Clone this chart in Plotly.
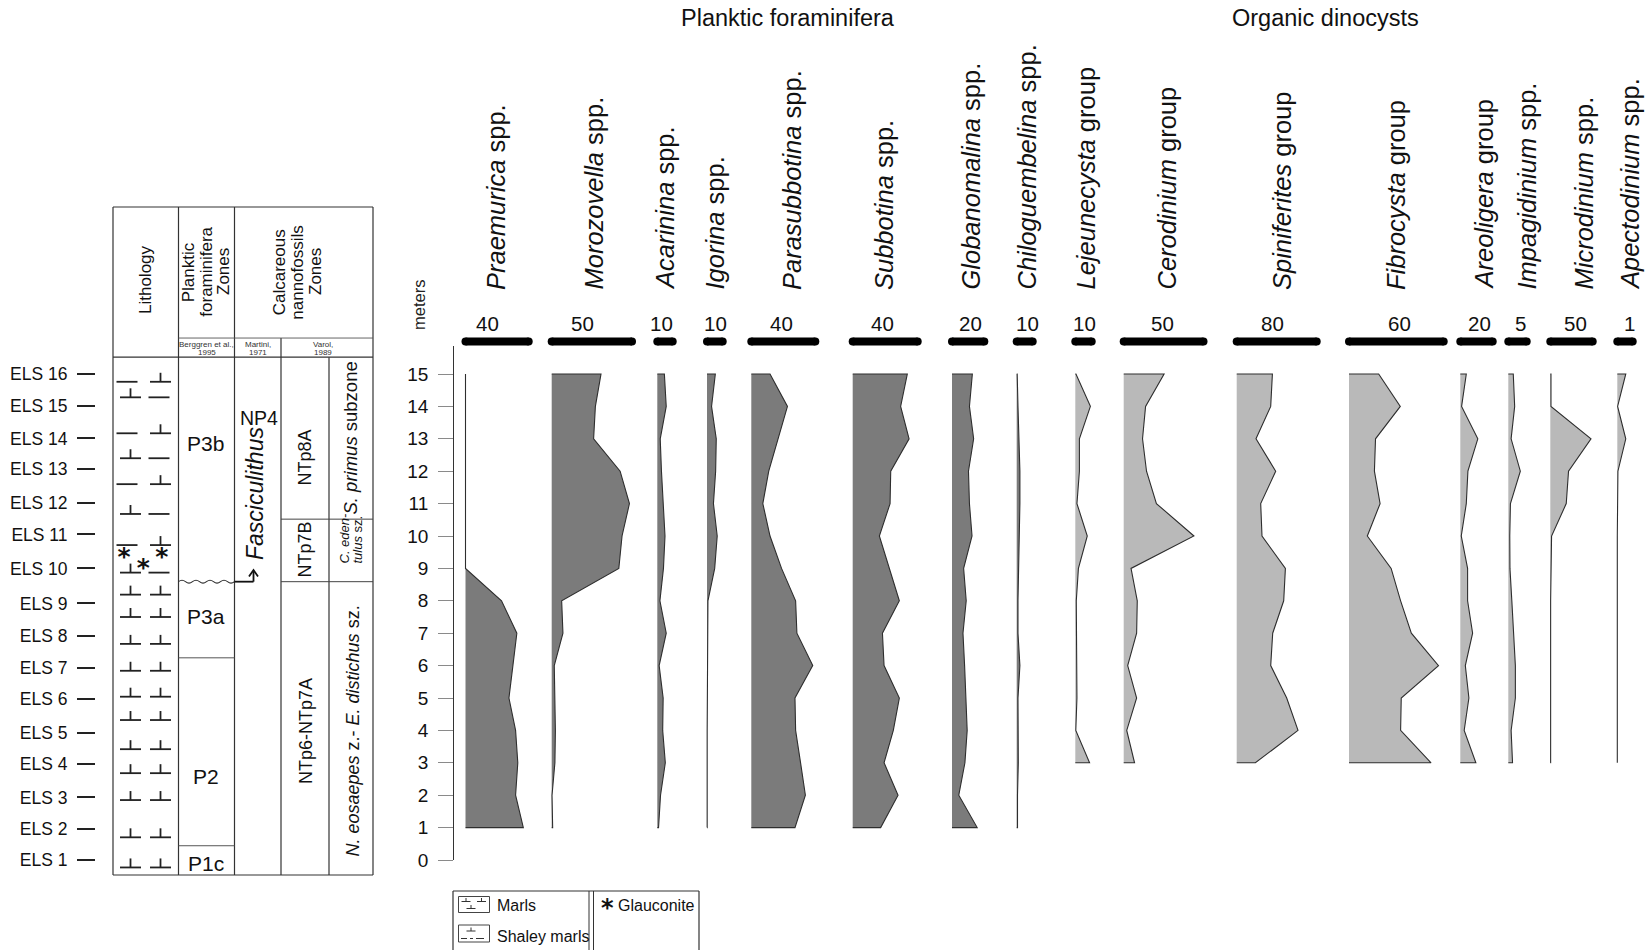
import plotly.graph_objects as go

W, H = 1649, 950

# ---------------- data ----------------
depth_foram = [15, 14, 13, 12, 11, 10, 9, 8, 7, 6, 5, 4, 3, 2, 1]
depth_dino = [15, 14, 13, 12, 11, 10, 9, 8, 7, 6, 5, 4, 3]

taxa_genus = ["Praemurica", "Morozovella", "Acarinina", "Igorina", "Parasubbotina",
              "Subbotina", "Globanomalina", "Chiloguembelina", "Lejeunecysta",
              "Cerodinium", "Spiniferites", "Fibrocysta", "Areoligera",
              "Impagidinium", "Microdinium", "Apectodinium"]
taxa_suffix = ["spp."] * 8 + ["group"] * 5 + ["spp."] * 3
scale_values = [40, 50, 10, 10, 40, 40, 20, 10, 10, 50, 80, 60, 20, 5, 50, 1]
taxa_group = ["foram"] * 8 + ["dino"] * 8

# planktic foraminifera (15 m -> 1 m)
praemurica = [0, 0, 0, 0, 0, 0, 0, 22.8, 32.5, 30.0, 27.5, 31.7, 33.1, 31.7, 36.6]
morozovella = [30.7, 27.2, 26.1, 42.6, 48.4, 43.8, 41.8, 6.2, 7.0, 1.6, 2.1, 2.3, 2.0, 0.2, 0.6]
acarinina = [4.6, 5.8, 1.9, 2.7, 3.8, 5.0, 4.0, 1.7, 5.8, 1.2, 3.8, 3.5, 5.2, 2.1, 0.8]
igorina = [5.3, 2.9, 5.9, 5.5, 4.1, 6.5, 4.9, 0.6, 0.4, 0.2, 0.1, 0.1, 0.1, 0.1, 0.1]
parasubbotina = [11.7, 22.6, 16.8, 10.9, 7.2, 11.7, 18.9, 27.7, 28.5, 38.4, 27.3, 27.7, 30.8, 33.8, 27.3]
subbotina = [33.6, 29.5, 34.7, 23.4, 23.0, 16.4, 22.6, 28.7, 18.3, 19.3, 28.7, 25.0, 19.3, 27.9, 17.2]
globanomalina = [12.6, 10.8, 13.4, 10.2, 10.8, 12.4, 7.2, 8.8, 6.8, 7.8, 8.8, 9.4, 8.0, 4.2, 15.6]
chiloguembelina = [0.3, 0.8, 1.5, 2.0, 2.0, 1.5, 1.0, 0.8, 0.8, 2.0, 0.8, 1.0, 1.0, 0.5, 0.5]
# organic dinocysts (15 m -> 3 m)
lejeunecysta = [0.4, 9.2, 2.5, 2.5, 1.0, 7.3, 1.9, 0.6, 0.8, 1.0, 1.0, 0.3, 8.7]
cerodinium = [25.3, 13.7, 11.8, 14.3, 20.5, 44.0, 4.6, 8.5, 8.1, 2.5, 8.1, 1.9, 6.8]
spiniferites = [35.7, 34.0, 19.3, 39.0, 24.0, 25.3, 48.7, 47.0, 36.0, 34.0, 50.0, 61.3, 18.7]
fibrocysta = [18.8, 32.5, 16.8, 16.1, 19.7, 11.6, 26.7, 32.7, 39.5, 56.7, 33.1, 32.7, 52.0]
areoligera = [3.7, 0.8, 10.8, 4.7, 3.7, 0.6, 4.5, 4.5, 7.6, 3.1, 5.3, 2.4, 9.6]
impagidinium = [1.35, 1.73, 0.77, 3.27, 0.58, 0.4, 0.45, 0.96, 1.54, 1.92, 1.92, 0.77, 1.15]
microdinium = [0.8, 0.8, 48.0, 21.5, 18.8, 1.5, 0.6, 0.4, 0.4, 0.4, 0.4, 0.4, 0.4]
apectodinium = [0.55, 0.02, 0.55, 0.04, 0, 0, 0, 0, 0, 0, 0, 0, 0]

abundances = [praemurica, morozovella, acarinina, igorina, parasubbotina, subbotina,
              globanomalina, chiloguembelina, lejeunecysta, cerodinium, spiniferites,
              fibrocysta, areoligera, impagidinium, microdinium, apectodinium]

meter_ticks = list(range(0, 16))
els_labels = ["ELS %d" % i for i in range(1, 17)]
els_depth = [0, 0.95, 1.93, 2.96, 3.91, 4.96, 5.92, 6.91, 7.92, 9.0, 10.05, 11.01, 12.06, 13.01, 14.02, 14.99]

# lithology column: symbol rows (m) and left / right symbols
litho_depth = [14.76, 14.28, 13.17, 12.40, 11.60, 10.68, 9.72, 8.87, 8.19, 7.50, 6.67,
               5.84, 5.04, 4.32, 3.42, 2.68, 1.85, 0.70, -0.23]
litho_left = ["dash", "perp"] * 4 + ["perp"] * 11
litho_right = ["perp", "dash"] * 4 + ["perp"] * 11
glauconite_depth = [9.50, 9.50, 9.16]
glauconite_pos = [11.0, 48.7, 30.3]

pf_zone_bounds = [0.44, 6.24]            # P1c/P2, P2/P3a
unconformity_depth = 8.59                # P3a/P3b (wavy)
varol_bounds = [8.59, 10.52]             # NTp7A/NTp7B, NTp7B/NTp8A
table_bottom, header_bottom, subheader_top, table_top = -0.463, 15.52, 16.11, 20.154

# ---------------- layout helpers ----------------
FONT = "Liberation Sans, Arial, Helvetica, sans-serif"
DARK, LIGHT, EDGE = "#7b7b7b", "#b9b9b9", "#2e2e2e"
Y0_PX, PPM = 860.0, 32.4   # pixel row of 0 m, pixels per metre


def fx(p):
    return p / W


def fy(p):
    return 1 - p / H


panel_base_px = [465.5, 551.7, 657.3, 707.0, 751.3, 852.7, 952.0, 1016.7, 1075.3, 1123.7,
                 1236.7, 1349.0, 1460.3, 1508.3, 1550.3, 1617.3]
panel_len_px = [63.2, 80.3, 15.4, 15.7, 64.0, 65.0, 32.3, 16.0, 16.4, 79.8, 80.0, 94.7,
                32.4, 18.4, 42.4, 15.4]
label_x_px = [496, 594, 665, 715, 792, 884, 971, 1027, 1086, 1167, 1282, 1396, 1484, 1527, 1584, 1630]
scale_x_px = [487.7, 582.5, 661.5, 715.5, 781.5, 882, 970, 1027.5, 1084, 1162.5, 1272.5, 1399,
              1479, 1520, 1575, 1629]

fig = go.Figure()
layout = dict(
    width=W, height=H, margin=dict(l=0, r=0, t=0, b=0), autosize=False,
    paper_bgcolor="white", plot_bgcolor="rgba(0,0,0,0)", showlegend=False,
    font=dict(family=FONT, color="#111"),
)

ytop = 15.85
layout["yaxis"] = dict(
    domain=[fy(Y0_PX), fy(Y0_PX - ytop * PPM)], range=[0, ytop], anchor="free",
    position=fx(453.3), showline=True, linecolor="#333", linewidth=1.3,
    ticks="outside", ticklen=15, tickwidth=1.3, tickcolor="#8a8a8a",
    tickvals=meter_ticks, ticktext=[str(v) for v in meter_ticks],
    tickfont=dict(size=19, family=FONT, color="#111"), ticklabelstandoff=6,
    showgrid=False, zeroline=False, fixedrange=True, automargin=False,
)
layout["yaxis3"] = dict(domain=[fy(350), fy(333)], range=[0, 1], anchor="x", visible=False,
                        fixedrange=True)

annotations = []
shapes = []


def pann(text, xp, yp, size, angle=0, xanchor="center", yanchor="middle", family=FONT, color="#111"):
    annotations.append(dict(xref="paper", yref="paper", x=fx(xp), y=fy(yp), text=text,
                            showarrow=False, textangle=angle, xanchor=xanchor, yanchor=yanchor,
                            font=dict(size=size, family=family, color=color)))


for i, vals in enumerate(abundances):
    xa = "x" if i == 0 else "x%d" % (i + 1)
    key = "xaxis" if i == 0 else "xaxis%d" % (i + 1)
    V = scale_values[i]
    base, length = panel_base_px[i], panel_len_px[i]
    ppu = length / V
    layout[key] = dict(domain=[fx(base - 2), fx(base + length + 2)],
                       range=[-2 / ppu, V + 2 / ppu], anchor="y", visible=False,
                       fixedrange=True)
    depths = depth_foram if taxa_group[i] == "foram" else depth_dino
    fig.add_trace(go.Scatter(
        x=[0] + vals + [0], y=[depths[0]] + depths + [depths[-1]],
        mode="lines", fill="toself",
        fillcolor=DARK if taxa_group[i] == "foram" else LIGHT,
        line=dict(color=EDGE, width=1.1), xaxis=xa, yaxis="y", hoverinfo="skip"))
    fig.add_trace(go.Scatter(
        x=[0, V], y=[0.5, 0.5], mode="lines+markers",
        line=dict(color="black", width=8), marker=dict(size=8, color="black"),
        cliponaxis=False, xaxis=xa, yaxis="y3", hoverinfo="skip"))
    pann("<i>%s</i> %s" % (taxa_genus[i], taxa_suffix[i]), label_x_px[i], 292, 25.5,
         angle=-90, yanchor="bottom")
    pann(str(V), scale_x_px[i], 323.5, 20.5)

pann("Planktic foraminifera", 788, 18.5, 23.5)
pann("Organic dinocysts", 1325, 18.5, 23.5)
pann("meters", 419, 305, 16.5, angle=-90, color="#222")

# ---------------- stratigraphic table ----------------
layout["xaxis17"] = dict(domain=[fx(111), fx(375)], range=[-2, 262], anchor="y2",
                         visible=False, fixedrange=True)
layout["yaxis2"] = dict(
    domain=[fy(877), fy(205)], range=[(Y0_PX - 877) / PPM, (Y0_PX - 205) / PPM],
    anchor="free", position=fx(95), side="left", showline=False,
    ticks="outside", ticklen=18, tickwidth=1.6, tickcolor="#222",
    tickvals=els_depth, ticktext=els_labels, ticklabelstandoff=6,
    tickfont=dict(size=17.5, family=FONT, color="#111"),
    showgrid=False, zeroline=False, fixedrange=True, automargin=False)

col_lith, col_pf, col_martini, col_varol, col_right = 65.5, 121.5, 168.0, 216.0, 260.0


def tline(x0, y0, x1, y1, w=1.2, c="#333"):
    shapes.append(dict(type="line", xref="x17", yref="y2", x0=x0, y0=y0, x1=x1, y1=y1,
                       line=dict(color=c, width=w)))


tline(0, table_bottom, col_right, table_bottom)
tline(0, table_top, col_right, table_top)
tline(0, table_bottom, 0, table_top)
tline(col_right, table_bottom, col_right, table_top)
tline(col_lith, table_bottom, col_lith, table_top)
tline(col_pf, table_bottom, col_pf, table_top)
tline(col_martini, table_bottom, col_martini, subheader_top)
tline(col_varol, table_bottom, col_varol, header_bottom)
tline(col_lith, subheader_top, col_right, subheader_top, 0.9, "#555")
tline(0, header_bottom, col_right, header_bottom)
for b in pf_zone_bounds:
    tline(col_lith, b, col_pf, b, 1.0, "#555")
for b in varol_bounds:
    tline(col_martini, b, col_right, b, 1.0, "#444")

# unconformity (wavy line) + arrow of Fasciculithus first occurrence
amp = 0.09
path = "M %.2f,%.3f Q %.2f,%.3f %.2f,%.3f" % (col_lith, unconformity_depth, col_lith + 3.5,
                                              unconformity_depth + amp, col_lith + 7, unconformity_depth)
xx = col_lith + 7
while xx < col_pf - 0.1:
    xx += 7
    path += " T %.2f,%.3f" % (xx, unconformity_depth)
shapes.append(dict(type="path", xref="x17", yref="y2", path=path,
                   line=dict(color="#333", width=1.1)))
ax_x = 140.5
tline(col_pf, unconformity_depth, ax_x, unconformity_depth, 1.8, "#111")
tline(ax_x, unconformity_depth, ax_x, unconformity_depth + 0.32, 1.8, "#111")
shapes.append(dict(type="path", xref="x17", yref="y2",
                   path="M %.2f,%.3f L %.2f,%.3f L %.2f,%.3f" % (
                       ax_x - 4.5, unconformity_depth + 0.16, ax_x, unconformity_depth + 0.36,
                       ax_x + 4.5, unconformity_depth + 0.16),
                   line=dict(color="#111", width=1.8)))

# lithology symbols
sx, sy = [], []
stem = 9 / PPM
for d, l, r in zip(litho_depth, litho_left, litho_right):
    for kind, cd, cp in ((l, 14, 17.5), (r, 46, 47.5)):
        c = cd if kind == "dash" else cp
        sx += [c - 10.5, c + 10.5, None]
        sy += [d, d, None]
        if kind == "perp":
            sx += [c, c, None]
            sy += [d, d + stem, None]
fig.add_trace(go.Scatter(x=sx, y=sy, mode="lines", line=dict(color="#222", width=1.8),
                         xaxis="x17", yaxis="y2", hoverinfo="skip"))
fig.add_trace(go.Scatter(x=glauconite_pos, y=[d - 0.2 for d in glauconite_depth], mode="text",
                         text=["*"] * len(glauconite_depth), textposition="middle center",
                         textfont=dict(size=25, family="DejaVu Sans", color="#111", weight="bold"),
                         xaxis="x17", yaxis="y2", hoverinfo="skip", cliponaxis=False))


def tann(text, t, m, size, angle=0, xanchor="center", yanchor="middle", color="#111"):
    annotations.append(dict(xref="x17", yref="y2", x=t, y=m, text=text, showarrow=False,
                            textangle=angle, xanchor=xanchor, yanchor=yanchor,
                            font=dict(size=size, family=FONT, color=color)))


def m_of(py):
    return (Y0_PX - py) / PPM


tann("Lithology", 32, m_of(280), 17, -90)
for t, txt in zip([75.3, 92.7, 110.0], ["Planktic", "foraminifera", "Zones"]):
    tann(txt, t, m_of(272), 17, -90)
for t, txt in zip([166.3, 183.7, 202.0], ["Calcareous", "nannofossils", "Zones"]):
    tann(txt, t, m_of(272), 17, -90)
for t, a, b in ((93.5, "Berggren et al.,", "1995"), (144.8, "Martini,", "1971"), (210, "Varol,", "1989")):
    tann(a, t, m_of(344), 8, 0, color="#333")
    tann(b, t, m_of(352.5), 8, 0, color="#333")
tann("P3b", 92.7, m_of(443), 21)
tann("P3a", 93, m_of(616.5), 21)
tann("P2", 93, m_of(776.5), 21)
tann("P1c", 93, m_of(863), 21)
tann("NP4", 145.5, m_of(418), 19.5)
tann("<i>Fasciculithus</i>", 141.5, m_of(562), 23, -90, yanchor="bottom")
tann("NTp8A", 191.5, m_of(458), 18, -90)
tann("NTp7B", 191.5, m_of(550), 18, -90)
tann("NTp6-NTp7A", 192.5, m_of(731.5), 18, -90)
tann("<i>S. primus</i> subzone", 236.5, m_of(438), 18.5, -90)
tann("<i>C. eden-</i>", 231, m_of(566), 13, -90, yanchor="bottom")
tann("<i>tulus</i> sz.", 243.5, m_of(566), 13, -90, yanchor="bottom")
tann("<i>N. eosaepes</i> z.- <i>E. distichus</i> sz.", 239, m_of(731.5), 18, -90)

# ---------------- lithology legend box ----------------


def pline(x0, y0, x1, y1, w=1.2, c="#333"):
    shapes.append(dict(type="line", xref="paper", yref="paper", x0=fx(x0), y0=fy(y0),
                       x1=fx(x1), y1=fy(y1), line=dict(color=c, width=w)))


def pperp(cx, cy, hw=4.5, hs=3.5, w=1.0):
    pline(cx - hw, cy, cx + hw, cy, w, "#333")
    pline(cx, cy, cx, cy - hs, w, "#333")


pline(453, 891, 699, 891)
pline(453, 891, 453, 952)
pline(699, 891, 699, 952)
pline(589, 891, 589, 952, 1.0)
pline(593.5, 891, 593.5, 952, 1.0)
# marls symbol
for a, b, c_, d in ((458.5, 896.5, 489.5, 896.5), (458.5, 912.5, 489.5, 912.5),
                    (458.5, 896.5, 458.5, 912.5), (489.5, 896.5, 489.5, 912.5)):
    pline(a, b, c_, d, 1.0, "#444")
pperp(466, 901.5)
pperp(481.5, 901.5)
pperp(471, 908.5)
# shaley marls symbol
for a, b, c_, d in ((458.5, 925, 489.5, 925), (458.5, 942, 489.5, 942),
                    (458.5, 925, 458.5, 942), (489.5, 925, 489.5, 942)):
    pline(a, b, c_, d, 1.0, "#444")
pperp(471, 931)
pline(461, 938.5, 467, 938.5, 1.0)
pline(470, 938.5, 473, 938.5, 1.0)
pline(476, 938.5, 484, 938.5, 1.0)
pann("Marls", 495, 905, 16, xanchor="left")
pann("Shaley marls", 495, 936, 16, xanchor="left")
annotations.append(dict(xref="paper", yref="paper", x=fx(607), y=fy(908), text="*",
                        showarrow=False, xanchor="center", yanchor="middle",
                        font=dict(size=24, family="DejaVu Sans", color="#111", weight="bold")))
pann("Glauconite", 616, 905, 16, xanchor="left")

layout["annotations"] = annotations
layout["shapes"] = shapes
fig.update_layout(**layout)
fig.write_html("out.html", config={"displayModeBar": False},
               post_script="document.body.style.margin='0';"
                           "document.documentElement.style.overflow='hidden';")
